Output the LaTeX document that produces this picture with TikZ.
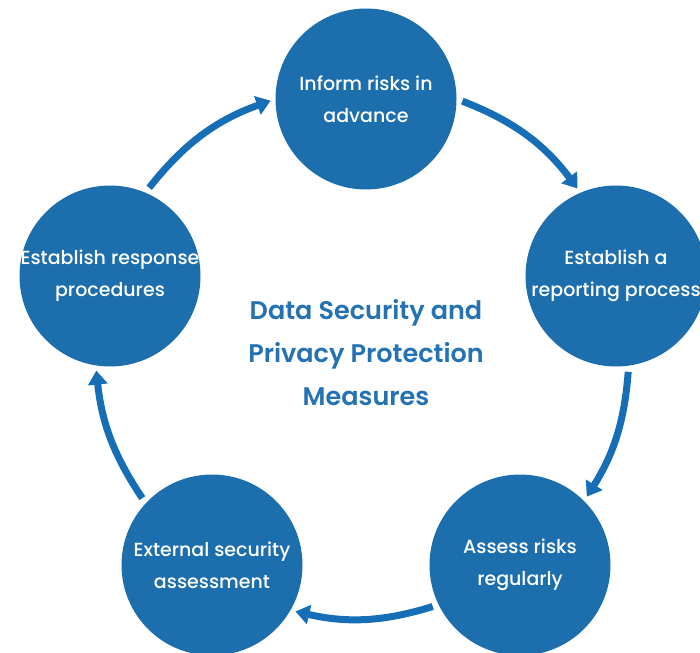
\documentclass[tikz,border=0pt]{standalone}
\usepackage{fontspec}
\setmainfont{Poppins}
\IfFontExistsTF{Poppins Medium}
  {\newfontfamily\stepfont{Poppins Medium}}
  {\newfontfamily\stepfont{Poppins}}
\IfFontExistsTF{Poppins SemiBold}
  {\newfontfamily\titlefont{Poppins SemiBold}}
  {\newfontfamily\titlefont{Poppins}}
\usetikzlibrary{arrows.meta, positioning}
\definecolor{myblue}{RGB}{28,110,173}
\definecolor{myarrow}{RGB}{22,111,182}
\definecolor{mytitle}{RGB}{36,114,180}
\tikzset{
  stepcircle/.style={circle, fill=myblue, minimum size=181pt, inner sep=0pt},
  steptext/.style={align=center, text=white, inner sep=0pt,
    font=\stepfont\fontsize{19}{32}\selectfont},
  flowarrow/.style={-{Triangle[length=14pt, width=19pt]}, line width=7pt,
    color=myarrow, shorten <=6pt, shorten >=5pt},
  titlenode/.style={align=center, text=mytitle, inner sep=0pt,
    font=\titlefont\fontsize{25.5}{43}\selectfont}
}

\begin{document}
\begin{tikzpicture}[x=1pt, y=-1pt]
  \useasboundingbox (0,0) rectangle (700,652);

  % Draw the five steps
  \node[stepcircle] (inform) at (366,99) {};
  \node[stepcircle] (report) at (616,276) {};
  \node[stepcircle] (assess) at (520,565) {};
  \node[stepcircle] (external) at (212,565) {};
  \node[stepcircle] (response) at (110,276) {};

  % Step texts
  \node[steptext] (inform-t) at (inform) {Inform risks in\\advance};
  \node[steptext] (report-t) at (report) {Establish a\\reporting process};
  \node[steptext] (assess-t) at (assess) {Assess risks\\regularly};
  \node[steptext] (external-t) at (external) {External security\\assessment};
  \node[steptext] (response-t) at (response) {Establish response\\procedures};

  % Title in the middle
  \node[titlenode] (title) at (366,353) {Data Security and\\Privacy Protection\\Measures};

  % Draw transitions
  \draw[flowarrow] (response.67) to[bend left=16] (inform.180);
  \draw[flowarrow] (inform.0) to[bend left=16] (report.113);
  \draw[flowarrow] (report.-82) to[bend left=14] (assess.45);
  \draw[flowarrow] (assess.206) to[bend left=15] (external.-30);
  \draw[flowarrow] (external.137) to[bend left=14] (response.261);
\end{tikzpicture}
\end{document}
